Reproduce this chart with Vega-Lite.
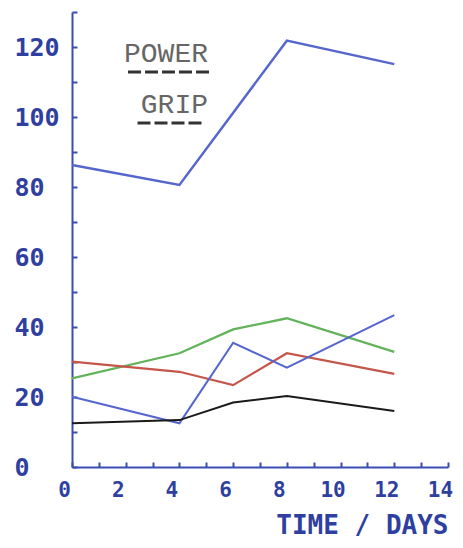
{
  "$schema": "https://vega.github.io/schema/vega-lite/v6.json",
  "width": 376,
  "height": 455,
  "autosize": {"type": "none"},
  "padding": {"left": 72, "top": 12, "right": 15, "bottom": 81},
  "background": "white",
  "data": {
    "values": [
      {"day": 0, "value": 86.3, "series": "power", "measure": "POWER"},
      {"day": 4, "value": 80.6, "series": "power", "measure": "POWER"},
      {"day": 8, "value": 121.8, "series": "power", "measure": "POWER"},
      {"day": 12, "value": 115.1, "series": "power", "measure": "POWER"},
      {"day": 0, "value": 25.3, "series": "green", "measure": "GRIP"},
      {"day": 4, "value": 32.5, "series": "green", "measure": "GRIP"},
      {"day": 6, "value": 39.3, "series": "green", "measure": "GRIP"},
      {"day": 8, "value": 42.5, "series": "green", "measure": "GRIP"},
      {"day": 12, "value": 32.9, "series": "green", "measure": "GRIP"},
      {"day": 0, "value": 30.1, "series": "red", "measure": "GRIP"},
      {"day": 4, "value": 27.2, "series": "red", "measure": "GRIP"},
      {"day": 6, "value": 23.4, "series": "red", "measure": "GRIP"},
      {"day": 8, "value": 32.5, "series": "red", "measure": "GRIP"},
      {"day": 12, "value": 26.6, "series": "red", "measure": "GRIP"},
      {"day": 0, "value": 20.1, "series": "blue", "measure": "GRIP"},
      {"day": 4, "value": 12.5, "series": "blue", "measure": "GRIP"},
      {"day": 6, "value": 35.5, "series": "blue", "measure": "GRIP"},
      {"day": 8, "value": 28.4, "series": "blue", "measure": "GRIP"},
      {"day": 12, "value": 43.4, "series": "blue", "measure": "GRIP"},
      {"day": 0, "value": 12.5, "series": "black", "measure": "GRIP"},
      {"day": 4, "value": 13.4, "series": "black", "measure": "GRIP"},
      {"day": 6, "value": 18.4, "series": "black", "measure": "GRIP"},
      {"day": 8, "value": 20.3, "series": "black", "measure": "GRIP"},
      {"day": 12, "value": 16.0, "series": "black", "measure": "GRIP"}
    ]
  },
  "mark": {"type": "line"},
  "encoding": {
    "x": {
      "field": "day",
      "type": "quantitative",
      "scale": {"domain": [0, 14], "nice": false},
      "axis": {
        "values": [0,1,2,3,4,5,6,7,8,9,10,11,12,13,14],
        "labelExpr": "datum.value % 2 === 0 ? datum.label : ''",
        "grid": false,
        "tickSize": -5,
        "tickWidth": 2,
        "domainWidth": 2,
        "domainColor": "#3a4db0",
        "tickColor": "#3a4db0",
        "labelColor": "#2f3f9f",
        "labelFont": "DejaVu Sans Mono",
        "labelFontWeight": "bold",
        "labelFontSize": 21,
        "labelFlush": false,
        "labelOverlap": false,
        "labelOffset": -8,
        "labelPadding": 17,
        "title": "TIME / DAYS",
        "titleFont": "DejaVu Sans Mono",
        "titleFontWeight": "bold",
        "titleFontSize": 26,
        "titleColor": "#2f3f9f",
        "titleAnchor": "end",
        "titlePadding": 12
      }
    },
    "y": {
      "field": "value",
      "type": "quantitative",
      "scale": {"domain": [0, 130], "nice": false},
      "axis": {
        "values": [0,10,20,30,40,50,60,70,80,90,100,110,120,130],
        "labelExpr": "datum.value % 20 === 0 ? datum.label : ''",
        "grid": false,
        "tickSize": -5,
        "tickWidth": 2,
        "domainWidth": 2,
        "domainColor": "#3a4db0",
        "tickColor": "#3a4db0",
        "labelColor": "#2f3f9f",
        "labelFont": "DejaVu Sans Mono",
        "labelFontWeight": "bold",
        "labelFontSize": 25,
        "labelAlign": "left",
        "labelFlush": false,
        "labelOverlap": false,
        "labelPadding": 63,
        "title": null
      }
    },
    "color": {
      "field": "series",
      "type": "nominal",
      "scale": {
        "domain": ["power", "green", "red", "blue", "black"],
        "range": ["#5566cc", "#62b35a", "#c4564a", "#5566cc", "#1a1a1a"]
      },
      "legend": null
    },
    "strokeWidth": {
      "field": "series",
      "type": "nominal",
      "scale": {
        "domain": ["power", "green", "red", "blue", "black"],
        "range": [2.4, 2, 2.2, 2.2, 2.8]
      },
      "legend": null
    },
    "opacity": {
      "field": "measure",
      "type": "nominal",
      "scale": {"domain": ["POWER", "GRIP"], "range": [1, 1]},
      "legend": {
        "title": null,
        "orient": "none",
        "legendX": 64,
        "legendY": 26,
        "symbolType": "stroke",
        "symbolSize": 100,
        "symbolStrokeWidth": 3,
        "symbolStrokeColor": "#333333",
        "symbolDash": [13, 4],
        "labelFont": "Liberation Mono",
        "labelFontSize": 28,
        "labelColor": "#666666",
        "labelAlign": "right",
        "rowPadding": 11,
        "encode": {
          "symbols": {
            "update": {
              "size": {"signal": "datum.value === 'POWER' ? 7056 : 4225"},
              "strokeDash": {"value": [13, 4]},
              "stroke": {"value": "#333333"}
            }
          },
          "labels": {"update": {"dy": {"value": -18}}}
        }
      }
    }
  },
  "config": {"view": {"stroke": null}}
}
